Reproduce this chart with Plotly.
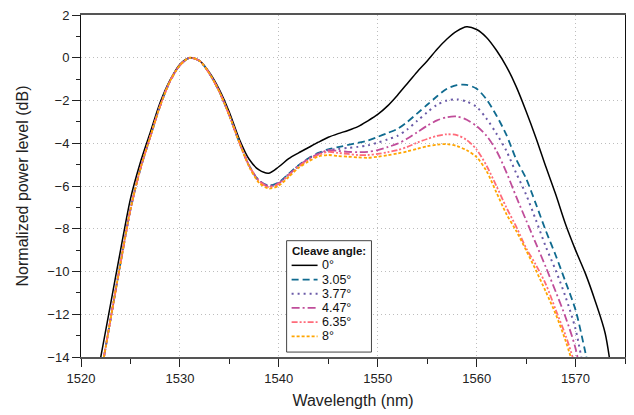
import plotly.graph_objects as go

wavelength = list(range(1521, 1575))

labels = ["0°", "3.05°", "3.77°", "4.47°", "6.35°", "8°"]
legend_title = "Cleave angle:"

p_0 = [-16.4, -14.0, -11.5, -9.0, -6.6, -4.9, -3.5, -2.1, -1.05, -0.3,
       0.0, -0.15, -0.7, -1.5, -2.55, -3.8, -4.75, -5.25, -5.4, -5.1,
       -4.72, -4.45, -4.2, -3.95, -3.72, -3.55, -3.4, -3.22, -2.95, -2.65,
       -2.25, -1.75, -1.2, -0.65, -0.15, 0.4, 0.88, 1.25, 1.45, 1.32,
       0.95, 0.35, -0.4, -1.35, -2.5, -3.75, -5.1, -6.4, -7.8, -9.0,
       -10.1, -11.4, -12.9, -16.0]

p_305 = [-17.0, -14.8, -12.2, -9.6, -7.1, -5.2, -3.7, -2.25, -1.1, -0.35,
         0.0, -0.15, -0.75, -1.6, -2.7, -3.95, -5.05, -5.75, -5.98, -5.83,
         -5.43, -5.03, -4.7, -4.45, -4.28, -4.18, -4.08, -3.98, -3.87, -3.7,
         -3.52, -3.33, -3.0, -2.6, -2.2, -1.8, -1.45, -1.28, -1.27, -1.45,
         -1.95, -2.7, -3.6, -4.75, -5.65, -6.85, -8.1, -9.25, -10.5, -11.8,
         -13.8, -16.0, None, None]

p_377 = [-17.0, -14.8, -12.2, -9.6, -7.1, -5.2, -3.7, -2.25, -1.1, -0.35,
         0.0, -0.15, -0.75, -1.6, -2.7, -3.95, -5.05, -5.75, -6.0, -5.85,
         -5.45, -5.05, -4.72, -4.48, -4.32, -4.27, -4.22, -4.17, -4.1, -3.97,
         -3.82, -3.65, -3.35, -2.95, -2.55, -2.2, -2.0, -1.95, -2.05, -2.3,
         -2.85, -3.55, -4.35, -5.4, -6.4, -7.6, -8.85, -9.95, -11.2, -12.7,
         -15.0, -17.0, None, None]

p_447 = [-17.0, -14.8, -12.2, -9.6, -7.1, -5.2, -3.7, -2.25, -1.1, -0.35,
         0.0, -0.15, -0.75, -1.6, -2.7, -3.95, -5.05, -5.75, -6.02, -5.87,
         -5.47, -5.07, -4.73, -4.5, -4.32, -4.36, -4.4, -4.42, -4.4, -4.32,
         -4.18, -4.02, -3.78, -3.48, -3.18, -2.93, -2.78, -2.75, -2.9, -3.2,
         -3.65, -4.35, -5.35, -6.5, -7.6, -8.7, -9.8, -10.95, -12.15, -13.6,
         -16.0, None, None, None]

p_635 = [-17.0, -14.8, -12.2, -9.6, -7.1, -5.2, -3.7, -2.25, -1.1, -0.35,
         0.0, -0.15, -0.75, -1.6, -2.7, -3.95, -5.05, -5.78, -6.05, -5.9,
         -5.5, -5.1, -4.78, -4.55, -4.4, -4.45, -4.5, -4.55, -4.55, -4.5,
         -4.42, -4.32, -4.17, -3.97, -3.8, -3.66, -3.58, -3.62, -3.85, -4.3,
         -5.05, -6.0, -7.0, -7.9, -8.9, -9.7, -10.6, -11.8, -13.0, -14.5,
         -17.0, None, None, None]

p_8 = [-17.0, -14.8, -12.2, -9.6, -7.1, -5.2, -3.7, -2.25, -1.1, -0.35,
       0.0, -0.15, -0.75, -1.6, -2.7, -3.95, -5.1, -5.85, -6.12, -5.98,
       -5.58, -5.15, -4.85, -4.62, -4.55, -4.6, -4.63, -4.66, -4.68, -4.63,
       -4.56, -4.48, -4.38, -4.26, -4.14, -4.07, -4.04, -4.13, -4.33, -4.65,
       -5.3, -6.3, -7.3, -8.1, -9.0, -9.95, -10.95, -12.0, -13.25, -14.8,
       -17.0, None, None, None]

series = [p_0, p_305, p_377, p_447, p_635, p_8]
colors = ["#000000", "#0f6a8f", "#6b5ba8", "#c04d9a", "#ff6b7a", "#ffa500"]
dashes = ["solid", "7px,4px", "2px,4px", "8px,3px,2px,3px",
          "6px,2px,2px,2px,2px,2px", "3px,2px"]
widths = [1.5, 1.8, 2, 1.8, 1.8, 1.8]

W, H = 634, 415
ML, MR, MT, MB = 81, 8, 10, 58
PW, PH = W - ML - MR, H - MT - MB


def px(x):
    return (x - ML) / PW


def py(y):
    return (H - MB - y) / PH


fig = go.Figure()
for lab, ys, c, d, w in zip(labels, series, colors, dashes, widths):
    fig.add_trace(go.Scatter(
        x=wavelength, y=ys, name=lab, mode="lines", showlegend=False,
        line=dict(color=c, dash=d, width=w, shape="spline", smoothing=0.8),
    ))

# custom legend (box, samples, text)
shapes = [dict(type="rect", xref="paper", yref="paper",
               x0=px(287), x1=px(372), y0=py(352), y1=py(239),
               line=dict(color="#444", width=1), fillcolor="white", layer="above")]
annotations = [dict(text="<b>" + legend_title + "</b>", xref="paper", yref="paper",
                    x=px(290), y=py(249), xanchor="left", yanchor="middle",
                    showarrow=False, font=dict(size=11.5, color="#111"))]
for i, (lab, c, d, w) in enumerate(zip(labels, colors, dashes, widths)):
    yy = 264 + i * 14.4
    shapes.append(dict(type="line", xref="paper", yref="paper",
                       x0=px(292), x1=px(318), y0=py(yy), y1=py(yy),
                       line=dict(color=c, dash=d, width=w), layer="above"))
    annotations.append(dict(text=lab, xref="paper", yref="paper",
                            x=px(320), y=py(yy), xanchor="left", yanchor="middle",
                            showarrow=False, font=dict(size=12.5, color="#111")))

font = "Liberation Sans, Arial, sans-serif"
fig.update_layout(
    width=W, height=H,
    margin=dict(l=ML, r=MR, t=MT, b=MB),
    paper_bgcolor="white", plot_bgcolor="white",
    font=dict(family=font, size=13, color="#222"),
    showlegend=False,
    shapes=shapes, annotations=annotations,
    xaxis=dict(
        range=[1520, 1575], dtick=10, tick0=1520,
        title=dict(text="Wavelength (nm)", standoff=10),
        showline=True, linecolor="#555", linewidth=2, mirror=True,
        ticks="outside", ticklen=8, tickcolor="#222", tickwidth=1,
        minor=dict(dtick=5, ticks="outside", ticklen=5, tickcolor="#222", showgrid=False),
        showgrid=True, gridcolor="#bdbdbd", griddash="1px,3px", gridwidth=1,
        zeroline=False,
    ),
    yaxis=dict(
        range=[-14, 2], dtick=2, tick0=0,
        title=dict(text="Normalized power level (dB)", standoff=14),
        showline=True, linecolor="#111", linewidth=1, mirror=True,
        ticks="outside", ticklen=8, tickcolor="#222", tickwidth=1,
        minor=dict(dtick=1, ticks="outside", ticklen=4, tickcolor="#222", showgrid=False),
        showgrid=True, gridcolor="#bdbdbd", griddash="1px,3px", gridwidth=1,
        zeroline=False,
    ),
)

fig.write_html("out.html")
